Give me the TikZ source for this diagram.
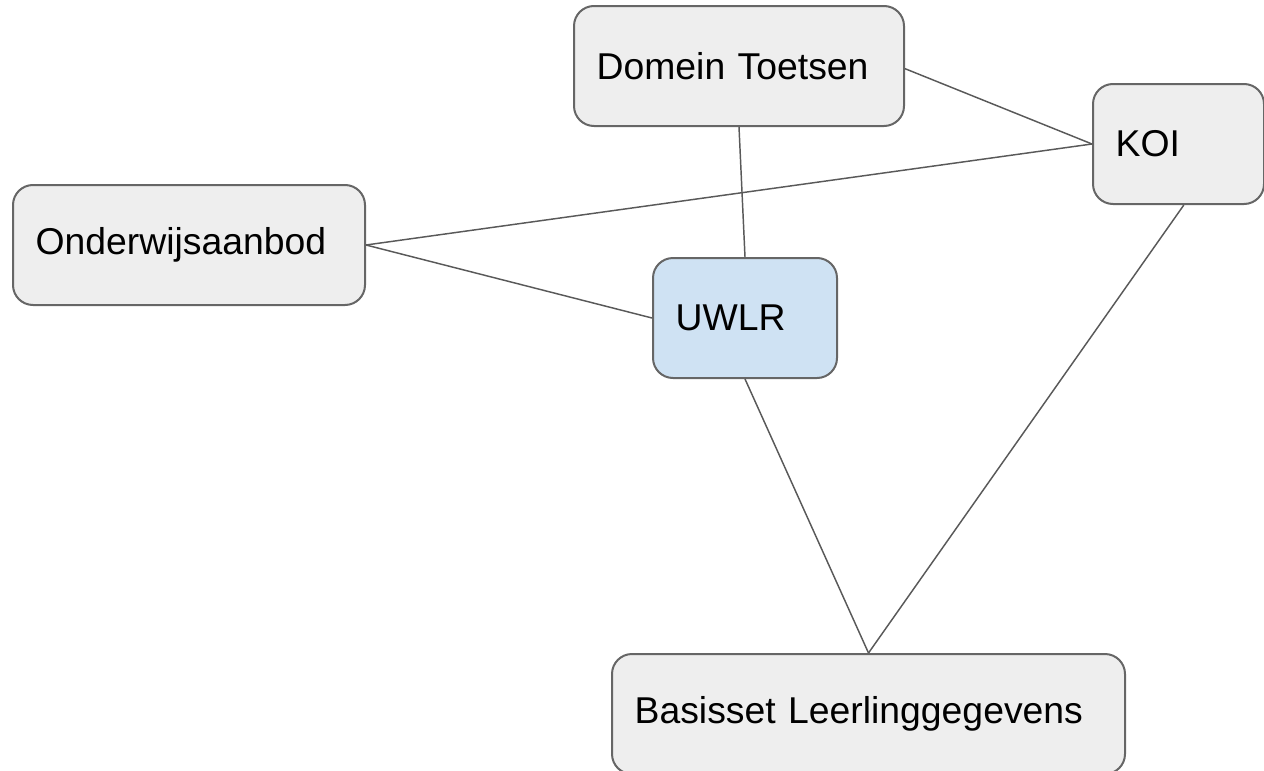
\documentclass[tikz,border=0pt]{standalone}
\usepackage{fontspec}
\setmainfont{Liberation Sans}
\usetikzlibrary{calc}
\definecolor{boxfill}{HTML}{EEEEEE}
\definecolor{boxline}{HTML}{666666}
\definecolor{uwlrfill}{HTML}{CFE2F3}
\definecolor{linkline}{HTML}{595959}
\tikzset{
	box/.style={draw=boxline, fill=boxfill, line width=1.5pt, rounded corners=15pt,
		anchor=north west, align=left, inner xsep=17pt, minimum height=90pt,
		font=\fontsize{28}{34}\selectfont},
	link/.style={draw=linkline, line width=1.1pt}
}

\begin{document}
\begin{tikzpicture}[x=0.75pt, y=-0.75pt]
			%%%%% START %%%%%
			
			\useasboundingbox (0, 0) rectangle (1264, 771);
			\clip (0, 0) rectangle (1264, 771);
			
			\node[box, text width=213.5pt] (dt) at (573, 5) {Domein Toetsen};
			\node[box, text width=94.25pt] (koi) at (1092, 83) {KOI};
			\node[box, text width=230pt] (ow) at (12, 184) {Onderwijsaanbod};
			\node[box, text width=104pt, fill=uwlrfill] (uwlr) at (652, 257) {UWLR};
			\node[box, text width=350.75pt] (bl) at (611, 653) {Basisset Leerlinggegevens};
			
			\draw[link] ([yshift=-2pt]dt.east) -- (koi.west);
			\draw[link] (dt.south) -- (uwlr.north);
			\draw[link] (ow.east) -- (koi.west);
			\draw[link] (ow.east) -- (uwlr.west);
			\draw[link] (uwlr.south) -- (bl.north);
			\draw[link] ([xshift=4pt]koi.south) -- (bl.north);
			
			%%%%% END %%%%%
		\end{tikzpicture}
\end{document}
